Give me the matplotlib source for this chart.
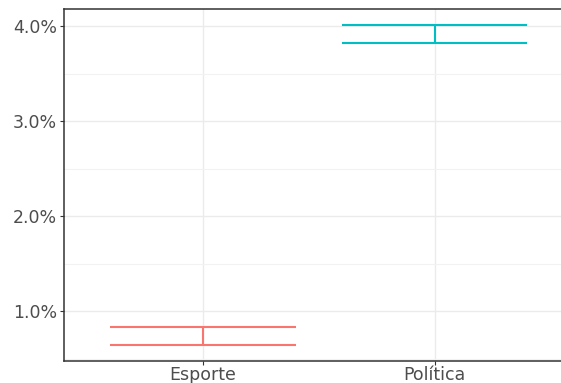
import matplotlib.pyplot as plt
import numpy as np
from matplotlib.ticker import FuncFormatter, MultipleLocator

# share of posts by topic, with lower/upper bounds (%)
categories = ['Esporte', 'Política']
lower = [0.64, 3.82]
upper = [0.83, 4.01]
colors = ['#F8766D', '#00BFC4']

plt.rcParams['font.family'] = ['DejaVu Sans']

fig = plt.figure(figsize=(5.61, 3.83), dpi=100)
W, H = 561, 383
ax = fig.add_axes([64 / W, 22 / H, (573.6 - 64) / W, (361 - 9) / H])

x = np.arange(1, len(categories) + 1)
for xi, lo, hi, c in zip(x, lower, upper, colors):
    ax.hlines([lo, hi], xi - 0.4, xi + 0.4, color=c, lw=1.5, zorder=3)
    ax.vlines(xi, lo, hi, color=c, lw=1.5, zorder=3)

ax.set_xlim(0.4, 2.6)
ax.set_ylim(0.474, 4.179)
ax.set_xticks(x)
ax.set_xticklabels(categories)
ax.yaxis.set_major_locator(MultipleLocator(1.0))
ax.yaxis.set_minor_locator(MultipleLocator(0.5))
ax.yaxis.set_major_formatter(FuncFormatter(lambda v, p: f'{v:.1f}%'))

ax.grid(True, which='major', color='#EBEBEB', lw=1.0, zorder=0)
ax.grid(True, which='minor', axis='y', color='#F2F2F2', lw=0.8, zorder=0)
ax.set_axisbelow(True)

for s in ['left', 'bottom', 'top']:
    ax.spines[s].set_color('#333333')
    ax.spines[s].set_linewidth(1.1)
ax.spines['right'].set_visible(False)

ax.tick_params(which='major', length=3, width=0.8, color='#333333',
               labelcolor='#4D4D4D', labelsize=12.5)
ax.tick_params(axis='y', pad=2)
ax.tick_params(axis='x', pad=0.5)
ax.tick_params(which='minor', length=0)

fig.savefig('out.png', dpi=100)
